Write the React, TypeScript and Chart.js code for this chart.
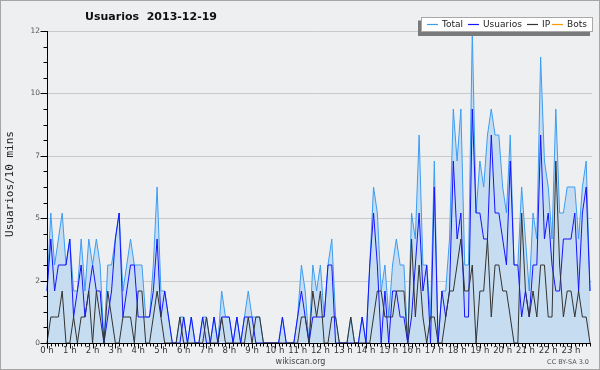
import React, { useEffect, useRef } from 'react';
import { Chart, registerables } from 'chart.js';

Chart.register(...registerables);

const TITLE = 'Usuarios  2013-12-19';
const Y_TITLE = 'Usuarios/10 mins';
const FOOTER = 'wikiscan.org';
const LICENSE = 'CC BY-SA 3.0';

const seriesNames = ['Total', 'Usuarios', 'IP', 'Bots'];
const seriesColors = ['#3d9df2', '#1414ff', '#333333', '#ff9900'];

const hourLabels = [
  '0 h', '1 h', '2 h', '3 h', '4 h', '5 h', '6 h', '7 h', '8 h', '9 h', '10 h', '11 h',
  '12 h', '13 h', '14 h', '15 h', '16 h', '17 h', '18 h', '19 h', '20 h', '21 h', '22 h', '23 h',
];

const yMajorTicks = [0, 2.4, 4.8, 7.2, 9.6, 12];
const yTickLabels = ['0', '2', '5', '7', '10', '12'];
const yMinorStep = 0.6;
const yMax = 12;

// values per 10-minute slot (144 slots)
const total = [
  2, 5, 3, 4, 5, 3, 4, 2, 2, 4, 2, 4,
  3, 4, 3, 0, 3, 3, 4, 5, 2, 3, 4, 3,
  3, 3, 1, 1, 3, 6, 2, 2, 1, 0, 0, 1,
  1, 0, 1, 0, 0, 1, 1, 0, 1, 0, 2, 1,
  1, 0, 1, 0, 1, 2, 1, 1, 1, 0, 0, 0,
  0, 0, 1, 0, 0, 0, 1, 3, 2, 0, 3, 2,
  3, 1, 3, 4, 1, 0, 0, 0, 1, 0, 0, 1,
  0, 3, 6, 5, 2, 3, 1, 3, 4, 3, 3, 0,
  5, 4, 8, 3, 3, 1, 7, 0, 2, 2, 4, 9,
  7, 9, 3, 3, 12, 5, 7, 6, 8, 9, 8, 8,
  6, 5, 8, 3, 3, 6, 4, 2, 5, 4, 11, 7,
  6, 4, 9, 5, 5, 6, 6, 6, 4, 6, 7, 2,
];

const usuarios = [
  2, 4, 2, 3, 3, 3, 4, 1, 2, 3, 1, 2,
  3, 2, 2, 0, 1, 2, 4, 5, 1, 2, 3, 3,
  1, 1, 1, 1, 2, 4, 1, 2, 1, 0, 0, 0,
  1, 0, 1, 0, 0, 1, 0, 0, 1, 0, 1, 1,
  1, 0, 1, 0, 1, 1, 1, 0, 0, 0, 0, 0,
  0, 0, 1, 0, 0, 0, 1, 2, 1, 0, 1, 1,
  1, 1, 3, 3, 0, 0, 0, 0, 0, 0, 0, 1,
  0, 3, 5, 3, 0, 2, 0, 2, 2, 1, 1, 0,
  1, 3, 5, 2, 3, 0, 6, 0, 2, 1, 2, 7,
  4, 5, 1, 1, 9, 5, 5, 4, 4, 8, 5, 5,
  4, 3, 7, 3, 3, 1, 2, 1, 3, 3, 8, 4,
  5, 3, 2, 2, 4, 4, 4, 5, 2, 5, 6, 2,
];

const ip = [
  0, 1, 1, 1, 2, 0, 0, 1, 0, 1, 1, 2,
  0, 2, 1, 0, 2, 1, 0, 0, 1, 1, 1, 0,
  2, 2, 0, 0, 1, 2, 1, 0, 0, 0, 0, 1,
  0, 0, 0, 0, 0, 0, 1, 0, 0, 0, 1, 0,
  0, 0, 0, 0, 0, 1, 0, 1, 1, 0, 0, 0,
  0, 0, 0, 0, 0, 0, 0, 1, 1, 0, 2, 1,
  2, 0, 0, 1, 1, 0, 0, 0, 1, 0, 0, 0,
  0, 0, 1, 2, 2, 1, 1, 1, 2, 2, 2, 0,
  4, 1, 3, 1, 0, 1, 1, 0, 0, 1, 2, 2,
  3, 4, 2, 2, 3, 0, 2, 2, 4, 1, 3, 3,
  2, 2, 1, 0, 0, 5, 2, 1, 2, 1, 3, 3,
  1, 1, 7, 3, 1, 2, 2, 1, 2, 1, 1, 0,
];

const bots = [
  0, 0, 0, 0, 0, 0, 0, 0, 0, 0, 0, 0,
  0, 0, 0, 0, 0, 0, 0, 0, 0, 0, 0, 0,
  0, 0, 0, 0, 0, 0, 0, 0, 0, 0, 0, 0,
  0, 0, 0, 0, 0, 0, 0, 0, 0, 0, 0, 0,
  0, 0, 0, 0, 0, 0, 0, 0, 0, 0, 0, 0,
  0, 0, 0, 0, 0, 0, 0, 0, 0, 0, 0, 0,
  0, 0, 0, 0, 0, 0, 0, 0, 0, 0, 0, 0,
  0, 0, 0, 0, 0, 0, 0, 0, 0, 0, 0, 0,
  0, 0, 0, 0, 0, 0, 0, 0, 0, 0, 0, 0,
  0, 0, 0, 0, 0, 0, 0, 0, 0, 0, 0, 0,
  0, 0, 0, 0, 0, 0, 0, 0, 0, 0, 0, 0,
  0, 0, 0, 0, 0, 0, 0, 0, 0, 0, 0, 0,
];

const SLOTS_PER_HOUR = 6;
const BG = '#eeeff1';

const toXY = (arr: number[]) => arr.map((v, i) => ({ x: i, y: v }));

const decorPlugin = {
  id: 'decor',
  beforeDraw(chart: any) {
    const { ctx, width, height } = chart;
    ctx.save();
    ctx.fillStyle = BG;
    ctx.fillRect(0, 0, width, height);
    ctx.restore();
  },
  beforeDatasetsDraw(chart: any) {
    const { ctx, chartArea, scales } = chart;
    const y = scales.y;
    ctx.save();
    ctx.strokeStyle = '#c9c9cc';
    ctx.lineWidth = 1;
    yMajorTicks.forEach((v) => {
      if (v === 0) return;
      const py = Math.round(y.getPixelForValue(v)) + 0.5;
      ctx.beginPath();
      ctx.moveTo(chartArea.left, py);
      ctx.lineTo(chartArea.right + 2, py);
      ctx.stroke();
    });
    ctx.restore();
  },
  afterDraw(chart: any) {
    const { ctx, chartArea, scales, width, height } = chart;
    const x = scales.x;
    const y = scales.y;
    const left = chartArea.left + 0.5;
    const bottom = Math.round(y.getPixelForValue(0)) + 0.5;
    ctx.save();

    // axes
    ctx.strokeStyle = '#000';
    ctx.lineWidth = 1;
    ctx.beginPath();
    ctx.moveTo(left, Math.round(y.getPixelForValue(yMax)));
    ctx.lineTo(left, bottom);
    ctx.lineTo(chartArea.right + 1, bottom);
    ctx.stroke();

    // y ticks
    const nMinor = Math.round(yMax / yMinorStep);
    for (let k = 0; k <= nMinor; k++) {
      const v = k * yMinorStep;
      const py = Math.round(y.getPixelForValue(v)) + 0.5;
      const major = k % 4 === 0;
      ctx.beginPath();
      ctx.moveTo(left, py);
      ctx.lineTo(left - (major ? 7 : 4), py);
      ctx.stroke();
    }
    ctx.fillStyle = '#555';
    ctx.font = '7.5px "DejaVu Sans"';
    ctx.textAlign = 'right';
    ctx.textBaseline = 'middle';
    yMajorTicks.forEach((v, k) => {
      ctx.fillText(yTickLabels[k], 40, y.getPixelForValue(v));
    });

    // x ticks
    for (let i = 0; i < total.length; i++) {
      const px = Math.round(x.getPixelForValue(i)) + 0.5;
      const major = i % SLOTS_PER_HOUR === 0;
      ctx.beginPath();
      ctx.moveTo(px, bottom);
      ctx.lineTo(px, bottom + (major ? 5 : 3));
      ctx.stroke();
    }
    ctx.fillStyle = '#333';
    ctx.font = '8.5px "DejaVu Sans"';
    ctx.textAlign = 'center';
    ctx.textBaseline = 'middle';
    hourLabels.forEach((lab, h) => {
      ctx.fillText(lab, x.getPixelForValue(h * SLOTS_PER_HOUR), 351);
    });

    // title
    ctx.fillStyle = '#111';
    ctx.font = 'bold 11px "DejaVu Sans"';
    ctx.textAlign = 'center';
    ctx.fillText(TITLE, 151, 17);

    // y title
    ctx.save();
    ctx.translate(10, 184);
    ctx.rotate(-Math.PI / 2);
    ctx.fillStyle = '#222';
    ctx.font = '11px "DejaVu Sans Mono"';
    ctx.textAlign = 'center';
    ctx.textBaseline = 'middle';
    ctx.fillText(Y_TITLE, 0, 0);
    ctx.restore();

    // footer
    ctx.fillStyle = '#444';
    ctx.font = '8px "DejaVu Sans"';
    ctx.textAlign = 'center';
    ctx.fillText(FOOTER, 300.5, 362);
    ctx.fillStyle = '#555';
    ctx.font = '6.5px "DejaVu Sans"';
    ctx.textAlign = 'right';
    ctx.fillText(LICENSE, 589, 362.5);

    // legend
    ctx.fillStyle = '#7a7a7a';
    ctx.fillRect(418, 20.5, 172, 15.5);
    ctx.fillStyle = '#fff';
    ctx.fillRect(421, 17, 172, 15);
    ctx.strokeStyle = '#a8a8a8';
    ctx.strokeRect(421.5, 17.5, 171, 14);
    const lineStarts = [427, 468, 527, 552];
    ctx.font = '9px "DejaVu Sans"';
    ctx.textAlign = 'left';
    ctx.textBaseline = 'middle';
    seriesNames.forEach((name, k) => {
      const sx = lineStarts[k];
      ctx.strokeStyle = seriesColors[k];
      ctx.lineWidth = 1.2;
      ctx.beginPath();
      ctx.moveTo(sx, 24.5);
      ctx.lineTo(sx + 11, 24.5);
      ctx.stroke();
      ctx.fillStyle = '#222';
      ctx.fillText(name, sx + 15, 25);
    });

    // frame
    ctx.strokeStyle = '#a6a6a6';
    ctx.lineWidth = 1;
    ctx.strokeRect(0.5, 0.5, width - 1, height - 1);
    ctx.restore();
  },
};

export default function App() {
  const ref = useRef<HTMLCanvasElement>(null);
  useEffect(() => {
    if (!ref.current) return;
    const chart = new Chart(ref.current, {
      type: 'line',
      data: {
        datasets: [
          {
            label: seriesNames[0], data: toXY(total), borderColor: seriesColors[0],
            backgroundColor: '#c6dcf0', fill: 'origin', borderWidth: 1, order: 4,
          },
          {
            label: seriesNames[1], data: toXY(usuarios), borderColor: seriesColors[1],
            fill: false, borderWidth: 1, order: 3,
          },
          {
            label: seriesNames[2], data: toXY(ip), borderColor: seriesColors[2],
            fill: false, borderWidth: 1, order: 2,
          },
          {
            label: seriesNames[3], data: toXY(bots), borderColor: seriesColors[3],
            fill: false, borderWidth: 1, order: 5,
          },
        ],
      },
      options: {
        responsive: false,
        animation: false,
        devicePixelRatio: 1,
        layout: { padding: { left: 47, top: 31, right: 10, bottom: 27 } },
        elements: { point: { radius: 0 }, line: { tension: 0 } },
        datasets: { line: { clip: false } } as any,
        scales: {
          x: { type: 'linear', min: 0, max: total.length - 1, display: false },
          y: { type: 'linear', min: 0, max: yMax, display: false },
        },
        plugins: { legend: { display: false }, tooltip: { enabled: false }, title: { display: false } },
      },
      plugins: [decorPlugin],
    });
    return () => chart.destroy();
  }, []);
  return (
    <div style={{ position: 'absolute', left: 0, top: 0, width: 600, height: 370 }}>
      <canvas ref={ref} width={600} height={370} style={{ width: 600, height: 370 }} />
    </div>
  );
}
